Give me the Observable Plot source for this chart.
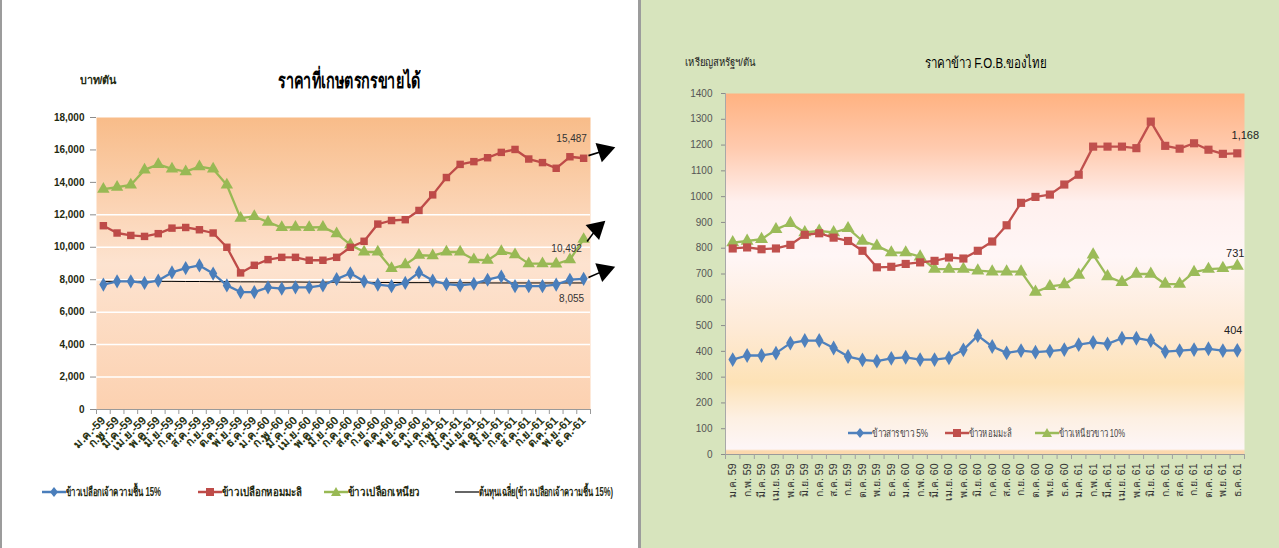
<!DOCTYPE html>
<html>
<head>
<meta charset="utf-8">
<script src="https://cdn.jsdelivr.net/npm/d3@7"></script>
<script src="https://cdn.jsdelivr.net/npm/@observablehq/plot@0.6"></script>
<style>
  html, body { margin: 0; padding: 0; background: #fff; }
  #root { position: relative; width: 1279px; height: 548px; overflow: hidden;
          font-family: "Liberation Sans Narrow", "Arial Narrow", "Liberation Sans", sans-serif; }
  .abs { position: absolute; white-space: nowrap; }
  .leg { position: absolute; display: flex; align-items: center; white-space: nowrap; }
  .fit { display: inline-block; transform-origin: 0 50%; }
</style>
</head>
<body>
<div id="root">
  <div id="left" class="abs" style="left:0;top:0;width:641px;height:548px;background:#fff;"></div>
  <div class="abs" style="left:0;top:0;width:2px;height:548px;background:#9c9c9c;"></div>
  <div class="abs" style="left:638px;top:0;width:3px;height:548px;background:#9c9c9c;"></div>
  <div id="right" class="abs" style="left:641px;top:0;width:638px;height:548px;background:#d7e4bd;"></div>
</div>
<script>
// ---------- categories (36 months, 2559-2561) ----------
const monthNames = ["ม.ค.","ก.พ.","มี.ค.","เม.ย.","พ.ค.","มิ.ย.","ก.ค.","ส.ค.","ก.ย.","ต.ค.","พ.ย.","ธ.ค."];
const years = ["59","60","61"];
const leftLabels = years.flatMap(y => monthNames.map(m => `${m}-${y}`));
const rightLabels = years.flatMap(y => monthNames.map(m => `${m} ${y}`));

// ---------- left chart: farm-gate prices (baht/ton) ----------
const leftYTicks = [0,2000,4000,6000,8000,10000,12000,14000,16000,18000];
const leftGrid = [2000,4000,6000,8000,10000,12000];
const paddyWhite15 = [7700,7900,7900,7800,7950,8450,8720,8880,8380,7650,7240,7240,7530,7450,7530,7530,7650,8040,8400,7900,7700,7600,7800,8450,7950,7730,7650,7750,8000,8200,7600,7600,7600,7700,8000,8055];
const paddyHomMali = [11330,10880,10730,10670,10840,11180,11220,11080,10880,10000,8420,8890,9240,9380,9380,9200,9200,9380,10000,10370,11430,11650,11700,12270,13230,14300,15110,15280,15520,15850,16030,15440,15220,14870,15580,15487];
const paddyGlutinous = [13580,13700,13840,14770,15110,14830,14660,14970,14830,13840,11800,11900,11550,11220,11240,11220,11240,10840,10160,9710,9710,8690,8930,9510,9480,9710,9710,9240,9200,9750,9550,8990,8990,8970,9240,10492];
const costLine = [7900,7900,7900,7900,7900,7900,7890,7890,7880,7880,7870,7870,7860,7860,7860,7850,7850,7850,7840,7840,7830,7830,7820,7820,7820,7810,7810,7810,7800,7800,7800,7800,7800,7800,7800,7800];
const leftSeriesNames = ["ข้าวเปลือกเจ้าความชื้น 15%","ข้าวเปลือกหอมมะลิ","ข้าวเปลือกเหนียว","ต้นทุนเฉลี่ย(ข้าวเปลือกเจ้าความชื้น 15%)"];
// arrow annotations [fromIndex, fromValue, tipIndex, tipValue, rotate]
const leftArrows = [[35.35,15650,36.5,15950,72],[35.25,10350,35.95,11150,48],[35.35,8140,36.5,8560,70]];

// ---------- right chart: F.O.B. prices (USD/ton) ----------
const rightYTicks = [0,100,200,300,400,500,600,700,800,900,1000,1100,1200,1300,1400];
const fobWhite5 = [368,384,384,393,432,442,442,413,380,367,362,373,377,368,368,375,406,461,419,394,403,397,401,407,426,435,429,451,451,442,399,403,407,410,403,404];
const fobHomMali = [799,803,796,799,813,852,858,841,828,790,726,728,739,745,751,764,760,790,826,889,976,999,1008,1047,1085,1194,1194,1194,1188,1291,1197,1186,1207,1182,1166,1168];
const fobGlutinous10 = [822,828,835,873,897,861,867,861,877,828,809,783,783,767,719,719,719,713,709,709,709,630,652,659,696,775,690,668,700,700,661,661,707,719,722,731];
const rightSeriesNames = ["ข้าวสารขาว 5%","ข้าวหอมมะลิ","ข้าวเหนียวขาว 10%"];

const BLUE = "#4a7ebb", RED = "#be4b48", GREEN = "#98b954";
const idx = d3.range(36);
const bounds = d3.range(37).map(i => i - 0.5);
const fmt = d3.format(",");

function gradient(id, stops) {
  return () => {
    const ns = "http://www.w3.org/2000/svg";
    const defs = document.createElementNS(ns, "defs");
    const lg = document.createElementNS(ns, "linearGradient");
    lg.setAttribute("id", id);
    lg.setAttribute("x1", "0"); lg.setAttribute("y1", "0");
    lg.setAttribute("x2", "0"); lg.setAttribute("y2", "1");
    for (const [o, c] of stops) {
      const s = document.createElementNS(ns, "stop");
      s.setAttribute("offset", o);
      s.setAttribute("stop-color", c);
      lg.appendChild(s);
    }
    defs.appendChild(lg);
    return defs;
  };
}

function series(values, color, symbol, r) {
  return [
    Plot.line(idx, {x: i => i, y: i => values[i], stroke: color, strokeWidth: 2.3}),
    Plot.dot(idx, {x: i => i, y: i => values[i], symbol, r, fill: color, stroke: "none"})
  ];
}

// fit a text span horizontally to a target width
function fit(span, width) {
  const w = span.getBoundingClientRect().width;
  if (w > 0) span.style.transform = `scaleX(${width / w})`;
}

// ---------- LEFT PLOT ----------
const leftPlot = Plot.plot({
  width: 640, height: 380,
  marginLeft: 96, marginRight: 50, marginTop: 17, marginBottom: 71,
  x: {domain: [-0.5, 35.5], axis: null},
  y: {domain: [0, 18000], axis: null},
  style: {background: "transparent", overflow: "visible",
          fontFamily: '"Liberation Sans Narrow", "Arial Narrow", sans-serif'},
  marks: [
    gradient("gradL", [["0", "#f8bc89"], ["0.5", "#fde3d0"], ["1", "#fcd1b0"]]),
    Plot.frame({fill: "url(#gradL)", stroke: "none"}),
    Plot.ruleY(leftGrid, {stroke: "#ffffff", strokeWidth: 1.5}),
    Plot.axisY({ticks: leftYTicks, tickFormat: fmt, tickSize: 6, tickPadding: 6,
                stroke: "#8c8c8c", fill: "#1f2a10", fontSize: 10, fontWeight: "bold"}),
    Plot.ruleY([0], {stroke: "#9a9a9a", strokeWidth: 1.2}),
    Plot.axisX({ticks: bounds, tickSize: 5, tickFormat: () => "", stroke: "#9a9a9a"}),
    Plot.axisX({ticks: idx, tickSize: 0, tickPadding: 9, tickFormat: i => leftLabels[i],
                tickRotate: -45, fontSize: 11.5, fontWeight: "bold", fill: "#2b3515"}),
    Plot.line(idx, {x: i => i, y: i => costLine[i], stroke: "#000", strokeWidth: 1}),
    ...series(paddyGlutinous, GREEN, "triangle", 4.6),
    ...series(paddyHomMali, RED, "square", 4.2),
    ...series(paddyWhite15, BLUE, "diamond", 4.3),
    Plot.text([35], {x: i => i, y: i => paddyHomMali[i], text: i => fmt(paddyHomMali[i]), dx: -12, dy: -19, fontSize: 10, fill: "#333"}),
    Plot.text([35], {x: i => i, y: i => paddyGlutinous[i], text: i => fmt(paddyGlutinous[i]), dx: -17, dy: 10, fontSize: 10, fill: "#333"}),
    Plot.text([35], {x: i => i, y: i => paddyWhite15[i], text: i => fmt(paddyWhite15[i]), dx: -12, dy: 20, fontSize: 10, fill: "#333"}),
    Plot.link(leftArrows, {x1: d => d[0], y1: d => d[1], x2: d => d[2], y2: d => d[3], stroke: "#000", strokeWidth: 1.6}),
    Plot.dot(leftArrows, {x: d => d[2], y: d => d[3], symbol: "triangle", r: 7.5, rotate: d => d[4], fill: "#000", stroke: "none"})
  ]
});
leftPlot.style.position = "absolute";
leftPlot.style.left = "0px";
leftPlot.style.top = "100px";
const left = document.getElementById("left");
left.appendChild(leftPlot);

function addText(parent, text, x, y, width, css) {
  const d = document.createElement("div");
  d.className = "abs";
  d.style.left = x + "px"; d.style.top = y + "px";
  const s = document.createElement("span");
  s.className = "fit";
  s.style.cssText += css;
  s.textContent = text;
  d.appendChild(s);
  parent.appendChild(d);
  fit(s, width);
  return d;
}
addText(left, "ราคาที่เกษตรกรขายได้", 278, 64, 143, "font-size:21px;font-weight:bold;color:#000;");
addText(left, "บาท/ตัน", 80, 70, 37, "font-size:11px;font-weight:bold;color:#1f2a10;");

function legendItem(parent, x, y, color, symbol, label, width, css) {
  const d = document.createElement("div");
  d.className = "leg";
  d.style.left = x + "px"; d.style.top = y + "px";
  let marker = "";
  if (symbol === "diamond") marker = `<path d="M12,1 L16,6 L12,11 L8,6 Z" fill="${color}"/>`;
  if (symbol === "square") marker = `<rect x="8" y="2" width="8" height="8" fill="${color}"/>`;
  if (symbol === "triangle") marker = `<path d="M12,1 L17,10 L7,10 Z" fill="${color}"/>`;
  d.innerHTML = `<svg width="24" height="12" style="overflow:visible"><line x1="0" y1="6" x2="24" y2="6" stroke="${color}" stroke-width="${symbol ? 2.5 : 1.2}"/>${marker}</svg><span class="fit" style="${css}">${label}</span>`;
  parent.appendChild(d);
  fit(d.querySelector("span"), width);
}
const lcss = "font-size:12px;font-weight:bold;color:#1f2a10;margin-left:0px;";
legendItem(left, 42, 482, BLUE, "diamond", leftSeriesNames[0], 95, lcss);
legendItem(left, 198, 482, RED, "square", leftSeriesNames[1], 80, lcss);
legendItem(left, 324, 482, GREEN, "triangle", leftSeriesNames[2], 72, lcss);
legendItem(left, 455, 482, "#000", null, leftSeriesNames[3], 134, lcss);

// ---------- RIGHT PLOT ----------
const rightPlot = Plot.plot({
  width: 638, height: 460,
  marginLeft: 84, marginRight: 35, marginTop: 13, marginBottom: 86,
  x: {domain: [-0.5, 35.5], axis: null},
  y: {domain: [0, 1400], axis: null},
  style: {background: "transparent", overflow: "visible",
          fontFamily: '"Liberation Sans Narrow", "Arial Narrow", sans-serif'},
  marks: [
    gradient("gradR", [["0", "#ffb281"], ["0.15", "#ffcaae"], ["0.3", "#fff0ee"], ["0.45", "#fff6f6"],
                       ["0.65", "#feead6"], ["0.8", "#fde2b6"], ["0.9", "#fdf0e3"], ["0.985", "#fdf6f7"],
                       ["0.99", "#fbd8ad"], ["1", "#fbd8ad"]]),
    Plot.frame({fill: "url(#gradR)", stroke: "none"}),
    Plot.axisY({ticks: rightYTicks, tickSize: 4, tickPadding: 9, tickFormat: d => String(d),
                stroke: "#8c8c8c", fill: "#555", fontSize: 10}),
    Plot.ruleX([-0.5], {stroke: "#a8a8a8", strokeWidth: 1}),
    Plot.ruleY([0], {stroke: "#9a9a9a", strokeWidth: 1.2}),
    Plot.axisX({ticks: bounds, tickSize: 5, tickFormat: () => "", stroke: "#a0a0a0"}),
    Plot.axisX({ticks: idx, tickSize: 0, tickPadding: 9, tickFormat: i => rightLabels[i],
                tickRotate: -90, fontSize: 10.5, fill: "#333"}),
    ...series(fobGlutinous10, "#9bbb59", "triangle", 4.8),
    ...series(fobHomMali, "#c0504d", "square", 4.6),
    ...series(fobWhite5, "#4f81bd", "diamond", 4.5),
    Plot.text([35], {x: i => i, y: i => fobHomMali[i], text: i => fmt(fobHomMali[i]), dx: 8, dy: -18, fontSize: 11, fill: "#222"}),
    Plot.text([35], {x: i => i, y: i => fobGlutinous10[i], text: i => fmt(fobGlutinous10[i]), dx: -2, dy: -13, fontSize: 11, fill: "#222"}),
    Plot.text([35], {x: i => i, y: i => fobWhite5[i], text: i => fmt(fobWhite5[i]), dx: -4, dy: -20, fontSize: 11, fill: "#222"})
  ]
});
rightPlot.style.position = "absolute";
rightPlot.style.left = "0px";
rightPlot.style.top = "80px";
const right = document.getElementById("right");
right.appendChild(rightPlot);

addText(right, "ราคาข้าว F.O.B.ของไทย", 284, 51, 122, "font-size:15px;color:#000;");
addText(right, "เหรียญสหรัฐฯ/ตัน", 44, 52, 71, "font-size:11px;color:#222;");
const rcss = "font-size:11.5px;color:#444;margin-left:0px;";
legendItem(right, 207, 424, "#4f81bd", "diamond", rightSeriesNames[0], 56, rcss);
legendItem(right, 304, 424, "#c0504d", "square", rightSeriesNames[1], 43, rcss);
legendItem(right, 394, 424, "#9bbb59", "triangle", rightSeriesNames[2], 66, rcss);
</script>
</body>
</html>
